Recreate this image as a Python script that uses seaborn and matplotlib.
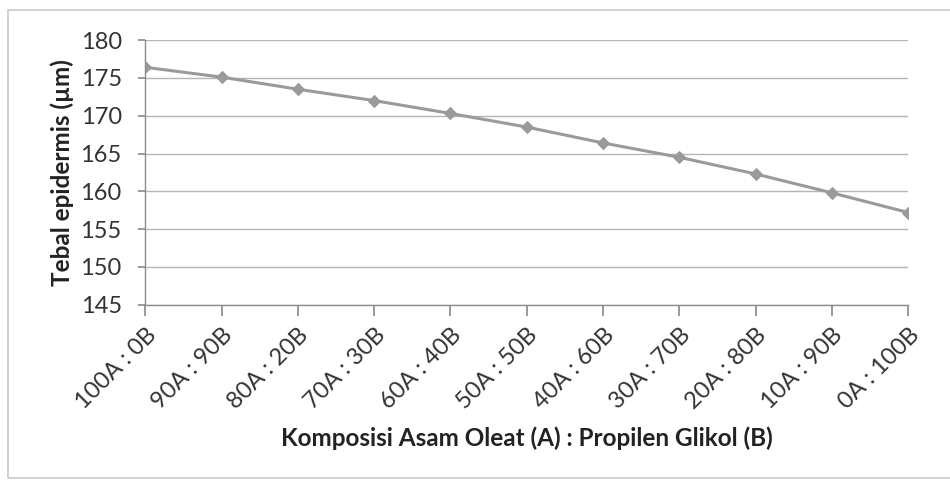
import matplotlib
matplotlib.use("Agg")
import matplotlib.pyplot as plt
import seaborn as sns
import pandas as pd

# data
komposisi = ["100A : 0B", "90A : 90B", "80A : 20B", "70A : 30B", "60A : 40B",
             "50A : 50B", "40A : 60B", "30A : 70B", "20A : 80B", "10A : 90B",
             "0A : 100B"]
tebal = [176.4, 175.1, 173.5, 172.0, 170.3, 168.5, 166.4, 164.5, 162.3, 159.8, 157.2]
y_ticks = [145, 150, 155, 160, 165, 170, 175, 180]

df = pd.DataFrame({"komposisi": komposisi, "tebal": tebal})

sns.set_theme(style="white")
plt.rcParams["font.family"] = ["Lato", "DejaVu Sans"]

fig, ax = plt.subplots(figsize=(9.5, 4.83), dpi=100)
fig.subplots_adjust(left=0.153, right=0.956, top=0.917, bottom=0.369)

sns.lineplot(data=df, x="komposisi", y="tebal", ax=ax, color="#9a9a9a",
             linewidth=2.2, marker="D", markersize=6, markeredgecolor="#9a9a9a",
             sort=False)

ax.set_xlim(0, len(komposisi) - 1)
ax.set_ylim(y_ticks[0], y_ticks[-1])
ax.set_yticks(y_ticks)
ax.yaxis.grid(True, color="#b5b5b5", linewidth=1.0)
ax.set_axisbelow(True)

for side in ["top", "right"]:
    ax.spines[side].set_visible(False)
for side in ["left", "bottom"]:
    ax.spines[side].set_color("#8c8c8c")
    ax.spines[side].set_linewidth(1.0)

ax.tick_params(axis="x", direction="out", length=8, color="#8c8c8c",
               bottom=True, labelsize=17, labelcolor="#333333", pad=6)
ax.tick_params(axis="y", direction="out", length=5, color="#8c8c8c",
               left=True, labelsize=17, labelcolor="#333333", pad=12)
plt.setp(ax.get_xticklabels(), rotation=45, ha="right", rotation_mode="anchor")

ax.set_xlabel("Komposisi Asam Oleat (A) : Propilen Glikol (B)", fontsize=17.5,
              fontweight="bold", color="#222222", labelpad=10)
ax.set_ylabel("Tebal epidermis (µm)", fontsize=17.5, fontweight="bold",
              color="#222222", labelpad=5)

# outer chart frame
fig.patches.append(plt.Rectangle((0.0084, 0.01), 1.0, 0.969, transform=fig.transFigure,
                                 fill=False, edgecolor="#c8c8c8", linewidth=1.2))

fig.savefig("out.png", dpi=100)
